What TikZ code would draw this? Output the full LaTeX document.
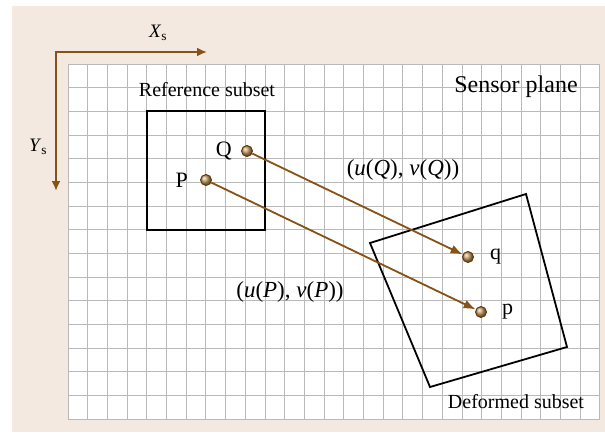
\documentclass[tikz,border=0pt]{standalone}
\usepackage{fontspec}
\setmainfont{Liberation Serif}
\usepackage{xcolor}
\usetikzlibrary{arrows.meta,positioning}
\definecolor{paper}{RGB}{243,233,224}
\definecolor{axbrown}{RGB}{135,82,22}
\definecolor{gridgray}{RGB}{185,185,185}
\definecolor{balltan}{RGB}{200,155,95}

\begin{document}
\begin{tikzpicture}[x=1pt,y=-1pt,
    dot/.style={circle,inner sep=0pt,minimum size=11pt,draw=axbrown!70!black,line width=0.9pt,shading=ball,ball color=balltan},
    disp/.style={axbrown,line width=1.8pt,-{Latex[length=12pt,width=9pt]}},
    lbl/.style={inner sep=0pt,font=\fontsize{20}{20}\selectfont}]
  % 1 px of the reference = 1pt, y runs downwards
  \useasboundingbox (0,0) rectangle (605,434);
  \fill[paper] (12,6) rectangle (605,432);
  % sensor grid, 27 x 15 pixels
  \fill[white] (68,64) rectangle (600,419);
  \foreach \i in {0,...,27} \draw[gridgray,line width=1pt] ({68+19.7*\i},64) -- ({68+19.7*\i},419);
  \foreach \j in {0,...,15} \draw[gridgray,line width=1pt] (68,{64+23.67*\j}) -- (600,{64+23.67*\j});
  % sensor axes
  \coordinate (O) at (56,52);
  \coordinate (xend) at (207,52);
  \coordinate (yend) at (56,191);
  \draw[axbrown,line width=2pt,{Latex[length=10pt,width=9pt]}-{Latex[length=10pt,width=9pt]}] (xend) -- (O) -- (yend);
  \node[lbl,font=\fontsize{19}{19}\selectfont] (xs) at (158,33) {\textit{X}\textsubscript{s}};
  \node[lbl,font=\fontsize{19}{19}\selectfont] (ys) at (38,147) {\textit{Y}\textsubscript{s}};
  % subsets
  \node[draw,line width=1.9pt,inner sep=0pt,minimum width=118.2pt,minimum height=118.4pt] (refbox) at (205.9,170.5) {};
  \draw[line width=1.8pt] (370,243) -- (526,194) -- (567,347) -- (430,387) -- cycle;
  \node[lbl] (reflbl) at (207,90) {Reference subset};
  \node[lbl,font=\fontsize{24}{24}\selectfont] (sensor) at (516,87) {Sensor plane};
  \node[lbl] (deflbl) at (516,402) {Deformed subset};
  % points before and after deformation
  \node[dot] (Q) at (247,151) {};
  \node[dot] (P) at (206,180) {};
  \node[dot] (q) at (468,257) {};
  \node[dot] (p) at (481,312) {};
  \node[lbl,font=\fontsize{22}{22}\selectfont,left=9pt of Q] (Qlbl) {Q};
  \node[lbl,font=\fontsize{22}{22}\selectfont,left=12pt of P] (Plbl) {P};
  \node[lbl,font=\fontsize{22}{22}\selectfont,right=16pt of q] (qlbl) {q};
  \node[lbl,font=\fontsize{22}{22}\selectfont,right=15pt of p] (plbl) {p};
  \draw[disp] (Q) -- (q);
  \draw[disp] (P) -- (p);
  \node[lbl,font=\fontsize{23}{23}\selectfont] (uvQ) at (403,170) {(\textit{u}(\textit{Q}), \textit{v}(\textit{Q}))};
  \node[lbl,font=\fontsize{23}{23}\selectfont] (uvP) at (290,292) {(\textit{u}(\textit{P}), \textit{v}(\textit{P}))};
\end{tikzpicture}
\end{document}
